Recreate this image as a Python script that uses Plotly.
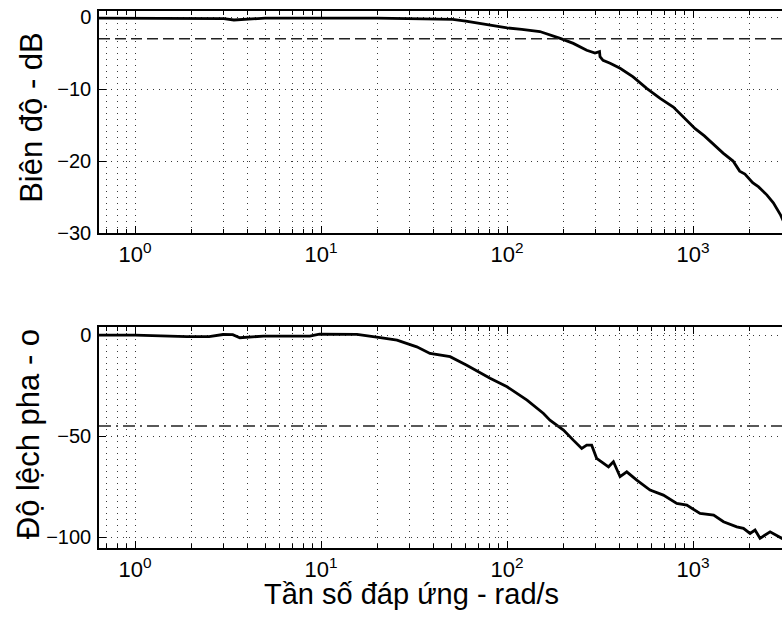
import numpy as np
import plotly.graph_objects as go
from plotly.subplots import make_subplots

# Magnitude response (rad/s, dB)
freq_mag = [0.64, 0.8, 1.0, 1.5, 2.0, 3.0, 3.4, 3.8, 5.0, 7.0, 10.0, 14.0, 20.0, 26.6,
            35.0, 51.0, 60.0, 71.6, 85.0, 100.0, 120.0, 150.0, 193.0, 227.0, 268.0,
            297.0, 314.0, 316.0, 328.0, 358.0, 405.0, 476.0, 563.0, 665.0, 783.0,
            925.0, 1026.0, 1150.0, 1290.0, 1450.0, 1640.0, 1780.0, 1900.0, 2090.0,
            2250.0, 2490.0, 2700.0, 2940.0, 3050.0]
mag_db = [-0.15, -0.15, -0.15, -0.15, -0.15, -0.2, -0.4, -0.3, -0.15, -0.15, -0.1, -0.15,
          -0.15, -0.2, -0.2, -0.3, -0.55, -0.9, -1.2, -1.5, -1.7, -2.0, -2.96, -3.65,
          -4.6, -5.0, -4.8, -5.5, -6.0, -6.4, -7.1, -8.3, -9.9, -11.3, -12.5, -14.3,
          -15.5, -16.5, -17.7, -18.9, -20.0, -21.4, -21.8, -23.0, -23.6, -24.7, -25.8,
          -27.4, -28.3]

# Phase response (rad/s, degrees)
freq_phase = [0.64, 1.0, 1.9, 2.5, 2.97, 3.35, 3.66, 4.9, 6.5, 8.7, 9.8, 12.0, 15.6,
              20.8, 25.6, 32.7, 38.5, 49.4, 60.7, 81.0, 100.0, 128.0, 157.0, 170.0,
              201.0, 227.0, 252.0, 268.0, 285.0, 303.0, 351.0, 373.0, 405.0, 440.0,
              498.0, 587.0, 692.0, 817.0, 925.0, 1090.0, 1290.0, 1457.0, 1718.0,
              1865.0, 2024.0, 2153.0, 2290.0, 2594.0, 2998.0, 3050.0]
phase_deg = [0.0, 0.0, -0.8, -0.8, 0.3, 0.2, -1.3, -0.5, -0.5, -0.5, 0.5, 0.5, 0.4,
             -1.3, -2.5, -5.8, -9.1, -10.7, -14.9, -21.4, -25.6, -32.2, -38.8, -42.1,
             -47.0, -52.0, -56.1, -54.5, -54.5, -61.0, -65.2, -62.7, -70.1, -67.7,
             -71.8, -76.7, -79.2, -83.3, -84.2, -88.3, -89.1, -92.4, -94.9, -95.7,
             -98.2, -96.5, -100.6, -97.4, -100.6, -100.2]

mag_ref = -3     # -3 dB line
phase_ref = -45  # -45 deg line

decades = [1, 10, 100, 1000]
decade_labels = ["10<sup>0</sup>", "10<sup>1</sup>", "10<sup>2</sup>", "10<sup>3</sup>"]
minor_vals = [m * d for d in [0.1, 1, 10, 100, 1000] for m in range(2, 10)]

FONT = "Liberation Sans, Arial, sans-serif"
GRID = "#3a3a3a"

fig = make_subplots(rows=2, cols=1)
fig.add_trace(go.Scatter(x=freq_mag, y=mag_db, mode="lines",
                         line=dict(color="black", width=2.8)), row=1, col=1)
fig.add_trace(go.Scatter(x=freq_phase, y=phase_deg, mode="lines",
                         line=dict(color="black", width=2.8)), row=2, col=1)

fig.add_hline(y=mag_ref, line=dict(color="#222", width=1.6, dash="11px,5px"), row=1, col=1)
fig.add_hline(y=phase_ref, line=dict(color="#222", width=1.6, dash="12px,5px,2px,5px"), row=2, col=1)

fig.update_xaxes(
    type="log", range=[np.log10(0.64), 3.478], automargin=False,
    tickvals=decades, ticktext=decade_labels,
    ticks="inside", ticklen=7, tickcolor="black",
    showline=True, linecolor="black", linewidth=1.5, mirror="ticks",
    showgrid=True, gridcolor=GRID, griddash="1px,5px", gridwidth=1,
    minor=dict(tickvals=minor_vals, ticks="inside", ticklen=4, tickcolor="black",
               showgrid=True, gridcolor=GRID, griddash="1px,5px", gridwidth=1),
    tickfont=dict(size=22, color="black"), ticklabelstandoff=1,
    ticklabeloverflow="allow", zeroline=False,
)
fig.update_yaxes(
    automargin=False,
    ticks="inside", ticklen=7, tickcolor="black",
    showline=True, linecolor="black", linewidth=1.5, mirror=False,
    showgrid=True, gridcolor=GRID, griddash="1px,5px", gridwidth=1,
    tickfont=dict(size=20, color="black"), ticklabelstandoff=2,
    ticklabeloverflow="allow", zeroline=False,
)
fig.update_layout(
    xaxis=dict(domain=[0, 1]),
    xaxis2=dict(domain=[0, 1]),
    yaxis=dict(domain=[0.5866, 1.0], range=[-30, 0.85], tickvals=[-30, -20, -10, 0]),
    yaxis2=dict(domain=[0.0, 0.4115], range=[-105.4, 4], tickvals=[-100, -50, 0]),
)

fig.add_annotation(text="Biên độ - dB", textangle=-90, xref="paper", yref="paper",
                   x=0, y=0.801, xanchor="center", yanchor="middle", xshift=-67,
                   showarrow=False, font=dict(size=31, color="black", family=FONT))
fig.add_annotation(text="Độ lệch pha - o", textangle=-90, xref="paper", yref="paper",
                   x=0, y=0.212, xanchor="center", yanchor="middle", xshift=-71,
                   showarrow=False, font=dict(size=31, color="black", family=FONT))
fig.add_annotation(text="Tần số đáp ứng - rad/s", xref="paper", yref="paper",
                   x=0.457, y=0, xanchor="center", yanchor="middle", yshift=-46,
                   showarrow=False, font=dict(size=29, color="black", family=FONT))

fig.update_layout(
    width=782, height=621,
    margin=dict(l=99, r=0, t=11, b=73),
    plot_bgcolor="white", paper_bgcolor="white",
    showlegend=False,
    font=dict(family=FONT, color="black"),
)

# drop the page's default body margin and scrollbars so the figure fills the window
fig.write_html("out.html", config={"displayModeBar": False},
               post_script="document.body.style.margin='0';"
                           "document.body.style.overflow='hidden';")
